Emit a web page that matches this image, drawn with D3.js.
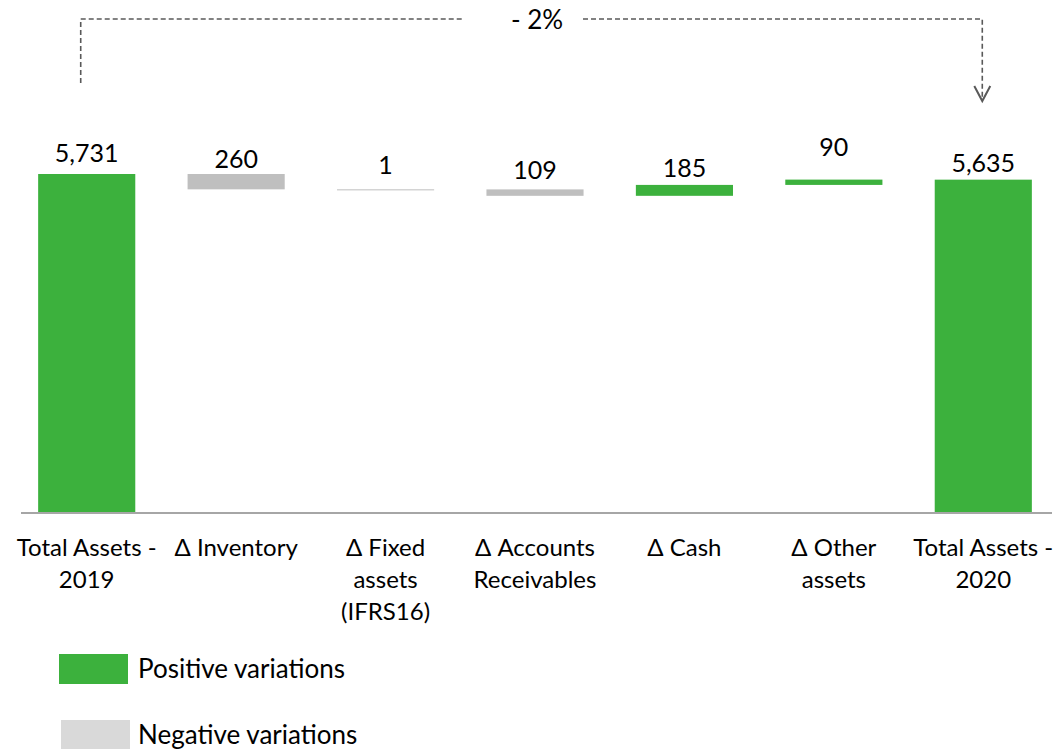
<!DOCTYPE html>
<html>
<head>
<meta charset="utf-8">
<script src="https://cdn.jsdelivr.net/npm/d3@7"></script>
<style>
  html, body { margin: 0; padding: 0; background: #ffffff; }
  svg { display: block; }
  text { font-family: Lato, "Open Sans", sans-serif; fill: #000; }
</style>
</head>
<body>
<svg id="chart" width="1059" height="749"></svg>
<script>
// ---- data ----
const categories = [
  ["Total Assets -", "2019"],
  ["Δ Inventory"],
  ["Δ Fixed", "assets", "(IFRS16)"],
  ["Δ Accounts", "Receivables"],
  ["Δ Cash"],
  ["Δ Other", "assets"],
  ["Total Assets -", "2020"]
];
const kinds = ["total", "neg", "neg", "neg", "pos", "pos", "total"];
const values = [5731, 260, 1, 109, 185, 90, 5635];
const valueLabels = ["5,731", "260", "1", "109", "185", "90", "5,635"];
const changeLabel = "- 2%";
const legendLabels = ["Positive variations", "Negative variations"];

// ---- layout (not data) ----
const labelGap = [12, 6, 15, 10, 8, 24, 8];
const colors = { pos: "#3cb13d", neg: "#bfbfbf", total: "#3cb13d" };
const legendColors = ["#3cb13d", "#d9d9d9"];

const svg = d3.select("#chart");

const x = d3.scaleBand()
  .domain(d3.range(categories.length))
  .range([12, 1058])
  .paddingInner(0.35)
  .paddingOuter(0.175);

const y = d3.scaleLinear().domain([0, 5731]).range([512, 174]);

// compute waterfall segments
let level = 0;
const bars = values.map((v, i) => {
  let lo, hi;
  if (kinds[i] === "total") { lo = 0; hi = v; level = v; }
  else if (kinds[i] === "neg") { hi = level; lo = level - v; level = lo; }
  else { lo = level; hi = level + v; level = hi; }
  return { i, lo, hi, kind: kinds[i] };
});

// bars
svg.append("g").selectAll("rect").data(bars).join("rect")
  .attr("x", d => x(d.i))
  .attr("width", x.bandwidth())
  .attr("y", d => y(d.hi))
  .attr("height", d => Math.max(1, y(d.lo) - y(d.hi)))
  .attr("fill", d => colors[d.kind]);

// value labels
svg.append("g").selectAll("text").data(bars).join("text")
  .attr("x", d => x(d.i) + x.bandwidth() / 2)
  .attr("y", d => y(d.hi) - labelGap[d.i])
  .attr("text-anchor", "middle")
  .style("font-size", "25px")
  .text(d => valueLabels[d.i]);

// x axis baseline
svg.append("line")
  .attr("x1", 21).attr("x2", 1052)
  .attr("y1", y(0) + 1).attr("y2", y(0) + 1)
  .attr("stroke", "#a6a6a6").attr("stroke-width", 2);

// category labels
const catG = svg.append("g").selectAll("text").data(categories).join("text")
  .attr("x", (d, i) => x(i) + x.bandwidth() / 2)
  .attr("y", 556)
  .attr("text-anchor", "middle")
  .style("font-size", "24px");
catG.selectAll("tspan").data(d => d).join("tspan")
  .attr("x", function () { return d3.select(this.parentNode).attr("x"); })
  .attr("dy", (d, j) => j === 0 ? 0 : 32)
  .text(d => d);

// change bracket
const xl = x(0) + x.bandwidth() / 2 - 6;
const xr = x(6) + x.bandwidth() / 2 - 1;
const yTop = 19;
const dash = { stroke: "#595959", "stroke-width": 1.6, "stroke-dasharray": "5,3", fill: "none" };
function applyAttrs(sel, o) { Object.entries(o).forEach(([k, v]) => sel.attr(k, v)); return sel; }
applyAttrs(svg.append("path").attr("d", `M${xl},83 V${yTop} H462`), dash);
applyAttrs(svg.append("path").attr("d", `M583,${yTop} H${xr} V100`), dash);
svg.append("path")
  .attr("d", `M${xr - 8},86 L${xr},101 L${xr + 8},86`)
  .attr("stroke", "#595959").attr("stroke-width", 2).attr("fill", "none");
svg.append("text")
  .attr("x", 537).attr("y", 29)
  .attr("text-anchor", "middle")
  .style("font-size", "26px")
  .text(changeLabel);

// legend
const leg = svg.append("g").selectAll("g").data(legendLabels).join("g")
  .attr("transform", (d, i) => `translate(0,${654 + i * 66})`);
leg.append("rect")
  .attr("x", (d, i) => 59 + i * 2)
  .attr("width", 69).attr("height", 30)
  .attr("fill", (d, i) => legendColors[i]);
leg.append("text").attr("x", 138).attr("y", 24)
  .style("font-size", "26px")
  .text(d => d);
</script>
</body>
</html>
